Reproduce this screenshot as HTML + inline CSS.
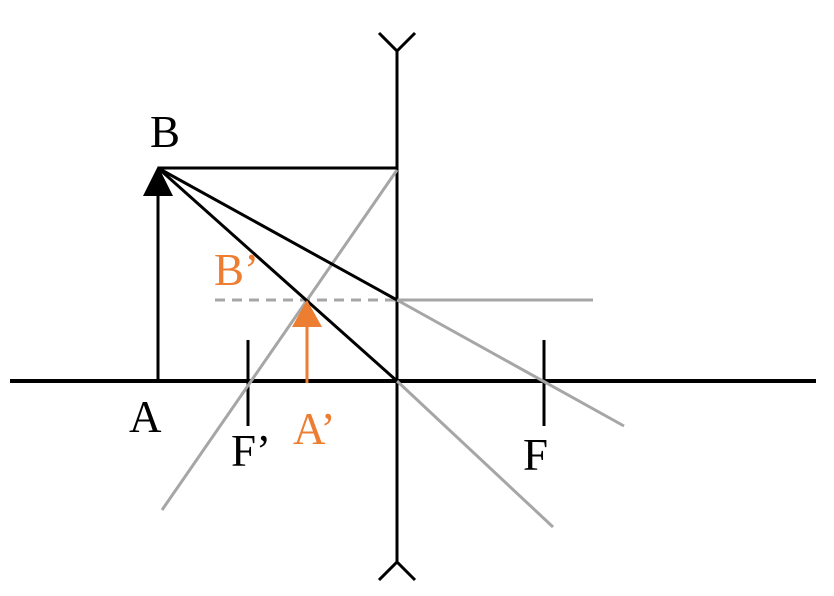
<!DOCTYPE html>
<html><head><meta charset="utf-8"><style>html,body{margin:0;padding:0;background:#fff}svg{display:block}</style></head>
<body>
<svg width="834" height="596" viewBox="0 0 834 596" xmlns="http://www.w3.org/2000/svg">
<g stroke-linecap="butt" fill="none">
<line x1="10" y1="381" x2="816" y2="381" stroke="#000" stroke-width="4"/>
<line x1="397" y1="50" x2="397" y2="563" stroke="#000" stroke-width="3"/>
<polyline points="379,33 397,51 415,33" stroke="#000" stroke-width="3"/>
<polyline points="379,580 397,562 415,580" stroke="#000" stroke-width="3"/>
<line x1="248" y1="340" x2="248" y2="426" stroke="#000" stroke-width="3"/>
<line x1="544" y1="340" x2="544" y2="426" stroke="#000" stroke-width="3"/>
<line x1="215" y1="300" x2="397" y2="300" stroke="#a6a6a6" stroke-width="3" stroke-dasharray="10,7"/>
<line x1="397" y1="300" x2="593" y2="300" stroke="#a6a6a6" stroke-width="3"/>
<line x1="397" y1="170" x2="162" y2="510" stroke="#a6a6a6" stroke-width="3"/>
<line x1="397" y1="300" x2="624" y2="426" stroke="#a6a6a6" stroke-width="3"/>
<line x1="397" y1="381" x2="553" y2="527" stroke="#a6a6a6" stroke-width="3"/>
<line x1="158" y1="381" x2="158" y2="190" stroke="#000" stroke-width="3"/>
<line x1="158" y1="168" x2="397" y2="168" stroke="#000" stroke-width="3"/>
<line x1="158" y1="168" x2="397" y2="381" stroke="#000" stroke-width="3"/>
<line x1="158" y1="168" x2="397" y2="300" stroke="#000" stroke-width="3"/>
<line x1="307" y1="383" x2="307" y2="320" stroke="#ed7d31" stroke-width="3"/>
</g>
<polygon points="158,166 143,196 173,196" fill="#000"/>
<polygon points="307,300 292,327 322,327" fill="#ed7d31"/>
<g font-family="'Liberation Serif', serif" font-size="45">
<text x="150" y="147">B</text>
<text x="129" y="432">A</text>
<text x="231" y="466">F’</text>
<text x="523" y="470">F</text>
<text x="214" y="285" fill="#ed7d31">B’</text>
<text x="293" y="444" fill="#ed7d31">A’</text>
</g>
</svg>
</body></html>
